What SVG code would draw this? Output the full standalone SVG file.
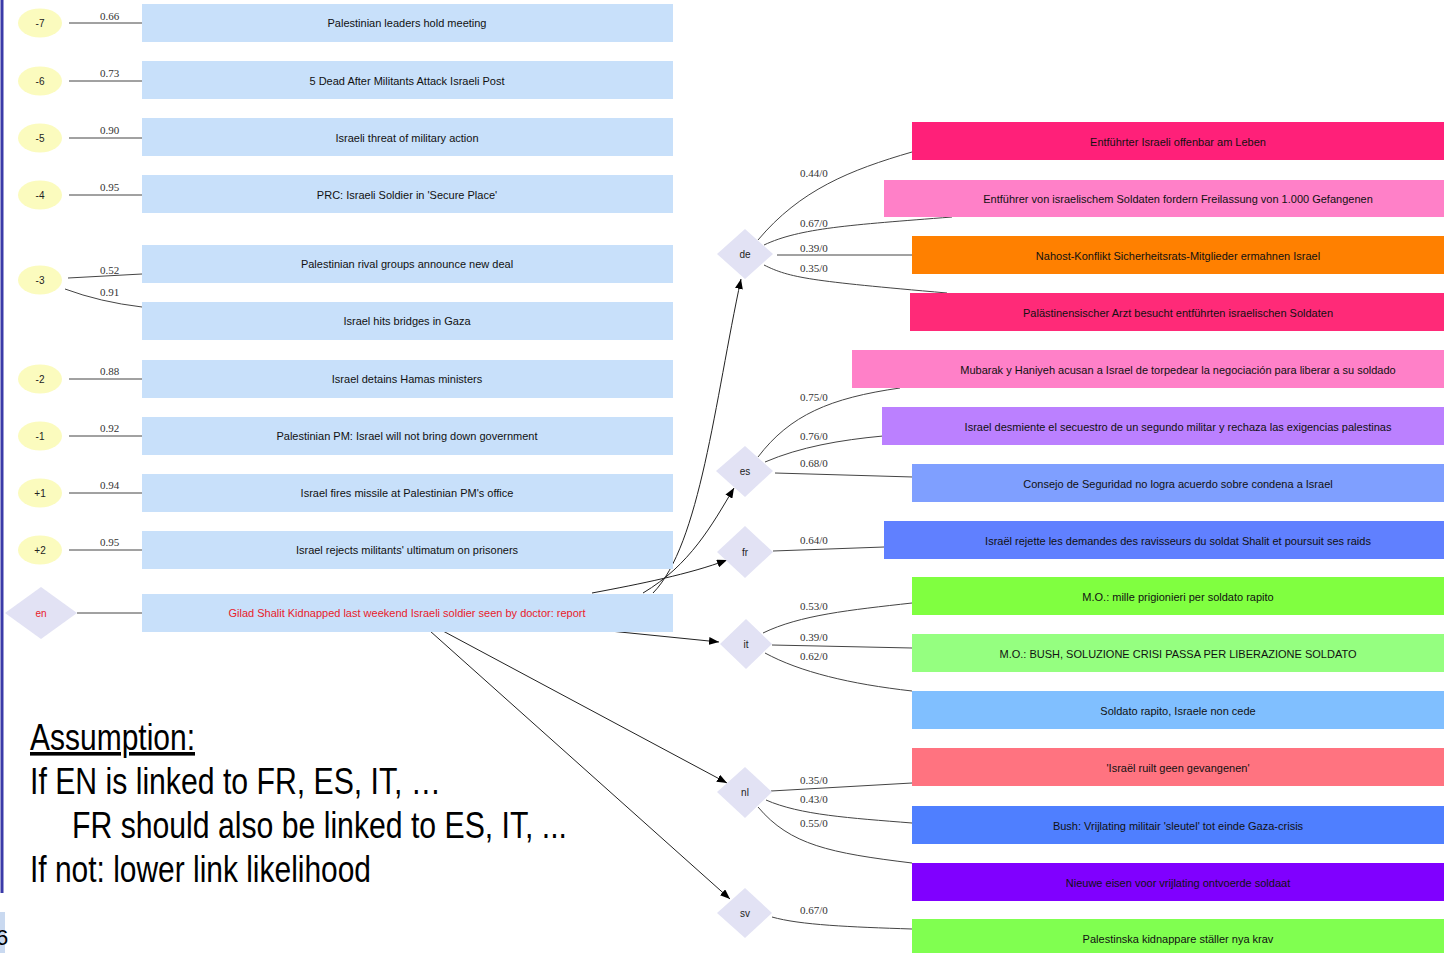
<svg xmlns="http://www.w3.org/2000/svg" width="1447" height="953" viewBox="0 0 1447 953">
<defs>
<marker id="ah" viewBox="0 0 10 8" refX="10" refY="4" markerWidth="10" markerHeight="8" markerUnits="userSpaceOnUse" orient="auto">
<path d="M0,0 L10,4 L0,8 Z" fill="#000"/>
</marker>
</defs>
<style>
.ell{fill:#FBFBBE}
.dia{fill:#E2E2F4}
.blue{fill:#C8E0FA}
.nt{font-family:"Liberation Sans",Arial,sans-serif;font-size:11px;fill:#111;text-anchor:middle}
.lt{font-family:"Liberation Sans",Arial,sans-serif;font-size:10px;fill:#222;text-anchor:middle}
.el{font-family:"Liberation Serif","Times New Roman",serif;font-size:11px;fill:#333}
.e{fill:none;stroke:#444;stroke-width:1}
.a{fill:none;stroke:#222;stroke-width:1;marker-end:url(#ah)}
.big{font-family:"Liberation Sans Narrow","Liberation Sans",Arial,sans-serif;font-size:36px;fill:#000}
</style>
<rect width="1447" height="953" fill="#fff"/>
<line x1="2" y1="0" x2="2" y2="893" stroke="#3A3AA8" stroke-width="3"/>
<rect x="0" y="912" width="5" height="41" fill="#C9D9F0"/>
<text x="-4" y="945" font-family="Liberation Sans,sans-serif" font-size="22" fill="#000">6</text>

<g id="edges">
<path class="e" d="M69 23 H142"/>
<path class="e" d="M69 81 H142"/>
<path class="e" d="M69 138 H142"/>
<path class="e" d="M69 195 H142"/>
<path class="e" d="M68 278 L142 274"/>
<path class="e" d="M65 289 Q100 302 142 307"/>
<path class="e" d="M69 379 H142"/>
<path class="e" d="M69 436 H142"/>
<path class="e" d="M69 493 H142"/>
<path class="e" d="M69 550 H142"/>
<path class="e" d="M77 613 H142"/>
<text class="el" x="100" y="20">0.66</text>
<text class="el" x="100" y="77">0.73</text>
<text class="el" x="100" y="134">0.90</text>
<text class="el" x="100" y="191">0.95</text>
<text class="el" x="100" y="274">0.52</text>
<text class="el" x="100" y="296">0.91</text>
<text class="el" x="100" y="375">0.88</text>
<text class="el" x="100" y="432">0.92</text>
<text class="el" x="100" y="489">0.94</text>
<text class="el" x="100" y="546">0.95</text>

<path class="a" d="M653 593 C700 545 715 400 741 279"/>
<path class="a" d="M643 593 C690 565 712 525 734 488"/>
<path class="a" d="M592 593 C640 584 690 574 727 560"/>
<path class="a" d="M610 631 L719 642"/>
<path class="a" d="M443 631 L727 783"/>
<path class="a" d="M430 631 L730 899"/>

<path class="e" d="M758 240 C800 190 850 170 912 152"/>
<path class="e" d="M764 245 C800 228 850 225 952 217"/>
<path class="e" d="M777 255 H912"/>
<path class="e" d="M764 265 C790 278 810 281 947 293"/>
<text class="el" x="800" y="177">0.44/0</text>
<text class="el" x="800" y="227">0.67/0</text>
<text class="el" x="800" y="252">0.39/0</text>
<text class="el" x="800" y="272">0.35/0</text>

<path class="e" d="M758 457 C790 415 830 398 900 388"/>
<path class="e" d="M765 462 C800 447 840 440 883 436"/>
<path class="e" d="M775 473 L913 477"/>
<path class="e" d="M773 551 L884 547"/>
<text class="el" x="800" y="401">0.75/0</text>
<text class="el" x="800" y="440">0.76/0</text>
<text class="el" x="800" y="467">0.68/0</text>
<text class="el" x="800" y="544">0.64/0</text>

<path class="e" d="M763 633 C800 615 850 610 912 603"/>
<path class="e" d="M772 645 L912 648"/>
<path class="e" d="M765 653 C800 672 850 684 912 691"/>
<text class="el" x="800" y="610">0.53/0</text>
<text class="el" x="800" y="641">0.39/0</text>
<text class="el" x="800" y="660">0.62/0</text>

<path class="e" d="M771 791 L912 783"/>
<path class="e" d="M766 800 C800 815 850 818 912 823"/>
<path class="e" d="M758 807 C790 845 830 853 912 863"/>
<path class="e" d="M772 917 C800 925 850 927 912 929"/>
<text class="el" x="800" y="784">0.35/0</text>
<text class="el" x="800" y="803">0.43/0</text>
<text class="el" x="800" y="827">0.55/0</text>
<text class="el" x="800" y="914">0.67/0</text>
</g>

<g id="n-m7"><ellipse class="ell" cx="40" cy="23" rx="22" ry="14.5"/><text class="lt" x="40" y="27">-7</text></g>
<g id="n-m6"><ellipse class="ell" cx="40" cy="81" rx="22" ry="14.5"/><text class="lt" x="40" y="85">-6</text></g>
<g id="n-m5"><ellipse class="ell" cx="40" cy="138" rx="22" ry="14.5"/><text class="lt" x="40" y="142">-5</text></g>
<g id="n-m4"><ellipse class="ell" cx="40" cy="195" rx="22" ry="14.5"/><text class="lt" x="40" y="199">-4</text></g>
<g id="n-m3"><ellipse class="ell" cx="40" cy="280" rx="22" ry="14.5"/><text class="lt" x="40" y="284">-3</text></g>
<g id="n-m2"><ellipse class="ell" cx="40" cy="379" rx="22" ry="14.5"/><text class="lt" x="40" y="383">-2</text></g>
<g id="n-m1"><ellipse class="ell" cx="40" cy="436" rx="22" ry="14.5"/><text class="lt" x="40" y="440">-1</text></g>
<g id="n-p1"><ellipse class="ell" cx="40" cy="493" rx="22" ry="14.5"/><text class="lt" x="40" y="497">+1</text></g>
<g id="n-p2"><ellipse class="ell" cx="40" cy="550" rx="22" ry="14.5"/><text class="lt" x="40" y="554">+2</text></g>
<g id="n-en"><path class="dia" d="M41 587 L77 613 L41 639 L5 613 Z"/><text class="lt" x="41" y="617" style="fill:#E8202A">en</text></g>

<g id="a1"><rect class="blue" x="142" y="4" width="531" height="38"/><text class="nt" x="407" y="27">Palestinian leaders hold meeting</text></g>
<g id="a2"><rect class="blue" x="142" y="61" width="531" height="38"/><text class="nt" x="407" y="85">5 Dead After Militants Attack Israeli Post</text></g>
<g id="a3"><rect class="blue" x="142" y="118" width="531" height="38"/><text class="nt" x="407" y="142">Israeli threat of military action</text></g>
<g id="a4"><rect class="blue" x="142" y="175" width="531" height="38"/><text class="nt" x="407" y="199">PRC: Israeli Soldier in 'Secure Place'</text></g>
<g id="a5"><rect class="blue" x="142" y="245" width="531" height="38"/><text class="nt" x="407" y="268">Palestinian rival groups announce new deal</text></g>
<g id="a6"><rect class="blue" x="142" y="302" width="531" height="38"/><text class="nt" x="407" y="325">Israel hits bridges in Gaza</text></g>
<g id="a7"><rect class="blue" x="142" y="360" width="531" height="38"/><text class="nt" x="407" y="383">Israel detains Hamas ministers</text></g>
<g id="a8"><rect class="blue" x="142" y="417" width="531" height="38"/><text class="nt" x="407" y="440">Palestinian PM: Israel will not bring down government</text></g>
<g id="a9"><rect class="blue" x="142" y="474" width="531" height="38"/><text class="nt" x="407" y="497">Israel fires missile at Palestinian PM's office</text></g>
<g id="a10"><rect class="blue" x="142" y="531" width="531" height="38"/><text class="nt" x="407" y="554">Israel rejects militants' ultimatum on prisoners</text></g>
<g id="a11"><rect class="blue" x="142" y="594" width="531" height="38"/><text class="nt" x="407" y="617" style="fill:#E8202A">Gilad Shalit Kidnapped last weekend Israeli soldier seen by doctor: report</text></g>

<g id="n-de"><path class="dia" d="M745 229 L773 254 L745 279 L717 254 Z"/><text class="lt" x="745" y="258">de</text></g>
<g id="n-es"><path class="dia" d="M745 446 L773 471 L745 497 L716 471 Z"/><text class="lt" x="745" y="475">es</text></g>
<g id="n-fr"><path class="dia" d="M745 526 L773 552 L745 578 L717 552 Z"/><text class="lt" x="745" y="556">fr</text></g>
<g id="n-it"><path class="dia" d="M746 619 L772 644 L746 669 L720 644 Z"/><text class="lt" x="746" y="648">it</text></g>
<g id="n-nl"><path class="dia" d="M745 767 L772 792 L745 818 L717 792 Z"/><text class="lt" x="745" y="796">nl</text></g>
<g id="n-sv"><path class="dia" d="M745 888 L772 913 L745 938 L717 913 Z"/><text class="lt" x="745" y="917">sv</text></g>

<g id="b1"><rect x="912" y="122" width="532" height="38" fill="#FF2079"/><text class="nt" x="1178" y="146">Entführter Israeli offenbar am Leben</text></g>
<g id="b2"><rect x="884" y="180" width="560" height="37" fill="#FF80C8"/><text class="nt" x="1178" y="203">Entführer von israelischem Soldaten fordern Freilassung von 1.000 Gefangenen</text></g>
<g id="b3"><rect x="912" y="236" width="532" height="38" fill="#FF8000"/><text class="nt" x="1178" y="260">Nahost-Konflikt Sicherheitsrats-Mitglieder ermahnen Israel</text></g>
<g id="b4"><rect x="910" y="293" width="534" height="38" fill="#FF2A78"/><text class="nt" x="1178" y="317">Palästinensischer Arzt besucht entführten israelischen Soldaten</text></g>
<g id="b5"><rect x="852" y="350" width="592" height="38" fill="#FF80C8"/><text class="nt" x="1178" y="374">Mubarak y Haniyeh acusan a Israel de torpedear la negociación para liberar a su soldado</text></g>
<g id="b6"><rect x="882" y="407" width="562" height="38" fill="#BB80FF"/><text class="nt" x="1178" y="431">Israel desmiente el secuestro de un segundo militar y rechaza las exigencias palestinas</text></g>
<g id="b7"><rect x="912" y="464" width="532" height="38" fill="#7F9FFF"/><text class="nt" x="1178" y="488">Consejo de Seguridad no logra acuerdo sobre condena a Israel</text></g>
<g id="b8"><rect x="884" y="521" width="560" height="38" fill="#6080FF"/><text class="nt" x="1178" y="545">Israël rejette les demandes des ravisseurs du soldat Shalit et poursuit ses raids</text></g>
<g id="b9"><rect x="912" y="577" width="532" height="38" fill="#80FF40"/><text class="nt" x="1178" y="601">M.O.: mille prigionieri per soldato rapito</text></g>
<g id="b10"><rect x="912" y="634" width="532" height="38" fill="#95FF80"/><text class="nt" x="1178" y="658">M.O.: BUSH, SOLUZIONE CRISI PASSA PER LIBERAZIONE SOLDATO</text></g>
<g id="b11"><rect x="912" y="691" width="532" height="38" fill="#80BFFF"/><text class="nt" x="1178" y="715">Soldato rapito, Israele non cede</text></g>
<g id="b12"><rect x="912" y="748" width="532" height="38" fill="#FF7380"/><text class="nt" x="1178" y="772">'Israël ruilt geen gevangenen'</text></g>
<g id="b13"><rect x="912" y="806" width="532" height="38" fill="#4F7FFF"/><text class="nt" x="1178" y="830">Bush: Vrijlating militair 'sleutel' tot einde Gaza-crisis</text></g>
<g id="b14"><rect x="912" y="863" width="532" height="38" fill="#8000FF"/><text class="nt" x="1178" y="887">Nieuwe eisen voor vrijlating ontvoerde soldaat</text></g>
<g id="b15"><rect x="912" y="919" width="532" height="38" fill="#80FF50"/><text class="nt" x="1178" y="943">Palestinska kidnappare ställer nya krav</text></g>

<g id="note">
<text class="big" x="30" y="750" textLength="165" lengthAdjust="spacingAndGlyphs" text-decoration="underline">Assumption:</text>
<text class="big" x="30" y="794" textLength="411" lengthAdjust="spacingAndGlyphs">If EN is linked to FR, ES, IT, …</text>
<text class="big" x="72" y="838" textLength="495" lengthAdjust="spacingAndGlyphs">FR should also be linked to ES, IT, ...</text>
<text class="big" x="30" y="882" textLength="341" lengthAdjust="spacingAndGlyphs">If not: lower link likelihood</text>
</g>
</svg>
